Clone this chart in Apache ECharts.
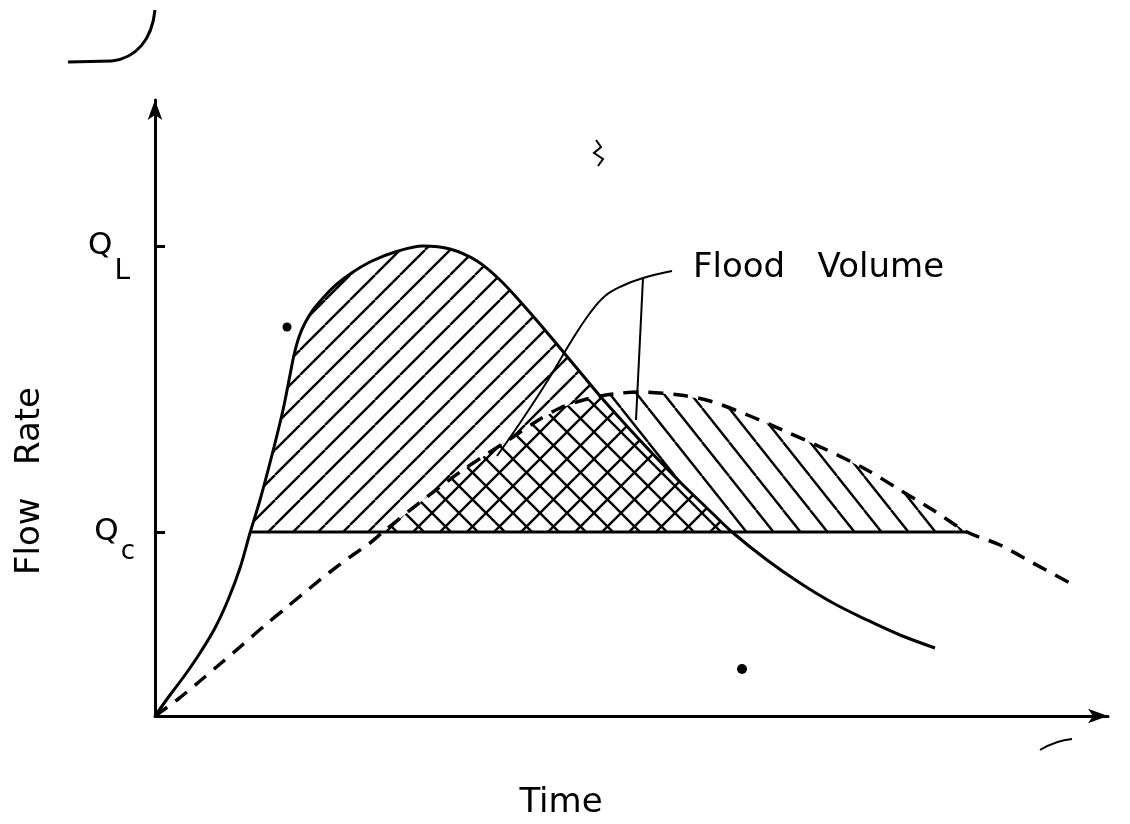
<!DOCTYPE html>
<html>
<head>
<meta charset="utf-8">
<script src="https://cdn.jsdelivr.net/npm/echarts@6/dist/echarts.min.js"></script>
<style>
html,body{margin:0;padding:0;background:#fff;}
#chart{width:1130px;height:824px;}
</style>
</head>
<body>
<div id="chart"></div>
<script>
// ---------------- data (time and flow in arbitrary units) ----------------
const Q_C = 18.4;          // channel capacity flow
const Q_L = 47.0;          // peak (limit) flow
const yTickValues = [Q_C, Q_L];
const yTickLabels = [['Q', 'c'], ['Q', 'L']];   // main letter, subscript

// inflow hydrograph (solid curve)
const inflowT = [0, 1.5, 3.0, 4.5, 6.0, 7.3, 8.5, 9.5, 10.5, 11.7, 12.8, 13.5, 13.9, 14.4, 15.0, 15.8, 16.8, 18.2, 19.8, 21.7, 24.0, 26.8, 29.5, 32.2, 34.5, 37.0, 39.5, 42.0, 44.5, 47.0, 49.5, 52.5, 55.5, 57.7, 61.2, 64.5, 67.8, 71.2, 74.5, 78.0];
const inflowQ = [0, 2.1, 4.1, 6.3, 8.8, 11.6, 14.8, 18.3, 21.6, 26.1, 30.6, 34.1, 36.1, 37.9, 39.3, 40.6, 41.8, 43.2, 44.4, 45.5, 46.4, 47.0, 46.7, 45.5, 43.6, 40.9, 38.0, 35.0, 32.0, 29.2, 26.5, 23.4, 20.5, 18.4, 15.6, 13.3, 11.3, 9.6, 8.1, 6.8];

// outflow / routed hydrograph (dashed curve)
const outflowT = [0, 2.2, 4.5, 6.5, 8.5, 10.8, 13.2, 15.5, 17.5, 19.5, 21.5, 22.8, 26.8, 30.8, 35.2, 38.2, 40.5, 43.2, 45.8, 48.5, 52.5, 55.5, 59.5, 63.2, 67.2, 71.2, 74.5, 77.8, 81.2, 84.5, 87.8, 91.5];
const outflowQ = [0, 1.6, 3.5, 5.2, 6.9, 8.9, 10.9, 12.8, 14.4, 15.9, 17.3, 18.4, 21.6, 24.6, 27.5, 29.5, 30.8, 31.7, 32.2, 32.4, 32.1, 31.5, 30.0, 28.4, 26.6, 24.6, 22.6, 20.6, 18.4, 17.1, 15.3, 13.3];

// annotation leader lines for "Flood Volume"
const leader1 = [[34.2, 26.0], [36.7, 29.6], [39.3, 33.6], [41.7, 37.6], [43.5, 40.3], [45.0, 42.0], [46.7, 43.0], [48.8, 43.8], [51.7, 44.5]];
const leader2 = [[48.8, 43.8], [48.1, 29.6]];
const annotationText = 'Flood   Volume';
const xAxisTitle = 'Time';
const yAxisTitle = 'Flow   Rate';

// ---------------- helpers ----------------
function lin(T, Q, t) {
  if (t <= T[0]) return Q[0];
  if (t >= T[T.length - 1]) return Q[Q.length - 1];
  for (let i = 1; i < T.length; i++) {
    if (t <= T[i]) {
      const f = (t - T[i - 1]) / (T[i] - T[i - 1]);
      return Q[i - 1] + f * (Q[i] - Q[i - 1]);
    }
  }
  return Q[Q.length - 1];
}
const inflow = t => lin(inflowT, inflowQ, t);
const outflow = t => lin(outflowT, outflowQ, t);
const grid = Array.from(new Set(inflowT.concat(outflowT))).sort((a, b) => a - b);

function crossings(h) {
  const out = [];
  for (let i = 1; i < grid.length; i++) {
    const a = grid[i - 1], b = grid[i];
    const ha = h(a), hb = h(b);
    if ((ha <= 0 && hb > 0) || (ha > 0 && hb <= 0)) {
      const t = ha === hb ? a : a + (b - a) * ha / (ha - hb);
      out.push({ t: t, up: hb > 0 });
    }
  }
  return out;
}
const inC = crossings(t => inflow(t) - Q_C);
const outC = crossings(t => outflow(t) - Q_C);
const tS0 = inC.find(c => c.up).t;
const tS1 = inC.filter(c => !c.up && c.t > tS0)[0].t;
const tD0 = outC.find(c => c.up).t;
const tD1 = outC.filter(c => !c.up && c.t > tD0)[0].t;
const tX = crossings(t => inflow(t) - outflow(t)).filter(c => !c.up && c.t > tD0 && c.t < tS1)[0].t;

function region(t0, t1, extra, top, bot) {
  let ts = grid.filter(t => t > t0 && t < t1).concat([t0, t1], extra.filter(t => t > t0 && t < t1));
  ts = Array.from(new Set(ts)).sort((a, b) => a - b);
  const upper = ts.map(t => [t, top(t)]);
  const lower = ts.slice().reverse().map(t => [t, bot(t)]);
  return upper.concat(lower);
}
// "/" only: under inflow, above outflow and Qc
const regionA = region(tS0, tX, [tD0], inflow, t => Math.max(Q_C, outflow(t)));
// cross-hatched: under both curves, above Qc
const regionC = region(tD0, tS1, [tX], t => Math.min(inflow(t), outflow(t)), () => Q_C);
// "\" only: under outflow, above inflow and Qc
const regionB = region(tX, tD1, [tS1], outflow, t => Math.max(Q_C, inflow(t)));

function hatch(w, h, dirs, lw) {
  const c = document.createElement('canvas');
  c.width = w; c.height = h;
  const g = c.getContext('2d');
  g.strokeStyle = '#000';
  g.lineWidth = lw;
  dirs.forEach(d => {
    for (let k = -1; k <= 1; k++) {
      g.beginPath();
      if (d === '/') { g.moveTo(k * w, h); g.lineTo(k * w + w, 0); }
      else { g.moveTo(k * w, 0); g.lineTo(k * w + w, h); }
      g.stroke();
    }
  });
  return { image: c, repeat: 'repeat' };
}
const patA = hatch(25, 25, ['/'], 2.4);
const patB = hatch(27, 34, ['\\'], 2.4);
const patC = hatch(27, 27, ['/', '\\'], 2.4);

const FONT = '"DejaVu Sans", "Noto Sans", sans-serif';
const chart = echarts.init(document.getElementById('chart'), null, { renderer: 'canvas' });

const axisLineStyle = { color: '#000', width: 3 };
const SUB = 26;

chart.setOption({
  backgroundColor: '#fff',
  animation: false,
  grid: { left: 155, right: 22, top: 100, bottom: 108, containLabel: false },
  xAxis: {
    type: 'value', min: 0, max: 95.3,
    axisLine: { show: true, symbol: ['none', 'arrow'], symbolSize: [11, 20], lineStyle: axisLineStyle },
    axisTick: { show: false }, axisLabel: { show: false }, splitLine: { show: false }
  },
  yAxis: {
    type: 'value', min: 0, max: 61.6,
    axisLine: { show: true, symbol: ['none', 'arrow'], symbolSize: [11, 20], lineStyle: axisLineStyle },
    axisTick: { show: true, inside: true, length: 10, customValues: yTickValues, lineStyle: { color: '#000', width: 3 } },
    axisLabel: {
      show: true, customValues: yTickValues, margin: 20, padding: [SUB, 0, 0, 0],
      formatter: function (v) {
        let idx = 0;
        yTickValues.forEach((tv, i) => { if (Math.abs(tv - v) < 1e-6) idx = i; });
        const lab = yTickLabels[idx];
        return '{q|' + lab[0] + '}{' + (lab[1] === 'L' ? 's' : 'c') + '|' + lab[1] + '}';
      },
      rich: {
        q: { fontSize: 31, fontFamily: FONT, color: '#000', lineHeight: 34, padding: [0, 0, SUB, 0] },
        s: { fontSize: 28, fontFamily: FONT, color: '#000', lineHeight: 34, padding: [SUB, 5, 0, 2] },
        c: { fontSize: 26, fontFamily: FONT, color: '#000', lineHeight: 34, padding: [20, 0, SUB - 20, 2] }
      }
    },
    splitLine: { show: false }
  },
  series: [
    {
      type: 'custom', name: 'hatch', z: 1, silent: true,
      coordinateSystem: 'cartesian2d',
      data: [[0, 0]],
      renderItem: function (params, api) {
        const px = pts => pts.map(p => api.coord(p));
        const a = api.coord([tS0, Q_C]);
        const b = api.coord([tD1, Q_C]);
        return {
          type: 'group',
          children: [
            { type: 'polygon', shape: { points: px(regionA) }, style: { fill: patA, stroke: null } },
            { type: 'polygon', shape: { points: px(regionC) }, style: { fill: patC, stroke: null } },
            { type: 'polygon', shape: { points: px(regionB) }, style: { fill: patB, stroke: null } },
            { type: 'line', shape: { x1: a[0], y1: a[1], x2: b[0], y2: b[1] }, style: { stroke: '#000', lineWidth: 3 } }
          ]
        };
      }
    },
    {
      type: 'line', name: 'Inflow', z: 3, smooth: 0.35, showSymbol: false, silent: true,
      data: inflowT.map((t, i) => [t, inflowQ[i]]),
      lineStyle: { color: '#000', width: 3 }
    },
    {
      type: 'line', name: 'Outflow', z: 3, smooth: 0.3, showSymbol: false, silent: true,
      data: outflowT.map((t, i) => [t, outflowQ[i]]),
      lineStyle: { color: '#000', width: 3.5, type: [15, 10] }
    },
    {
      type: 'line', name: 'leader1', z: 4, smooth: 0.4, showSymbol: false, silent: true,
      data: leader1, lineStyle: { color: '#000', width: 2 }
    },
    {
      type: 'line', name: 'leader2', z: 4, smooth: false, showSymbol: false, silent: true,
      data: leader2, lineStyle: { color: '#000', width: 2 }
    }
  ],
  graphic: [
    { type: 'text', x: 693, y: 268, style: { text: annotationText, font: '34px ' + FONT, fill: '#000', align: 'left', verticalAlign: 'middle' } },
    { type: 'text', x: 30, y: 481, rotation: Math.PI / 2, style: { text: yAxisTitle, font: '34px ' + FONT, fill: '#000', align: 'center', verticalAlign: 'middle' } },
    { type: 'text', x: 561, y: 803, style: { text: xAxisTitle, font: '34px ' + FONT, fill: '#000', align: 'center', verticalAlign: 'middle' } },
    // scan marks on the page
    { type: 'polyline', shape: { points: [[68, 62], [112, 61]] }, style: { stroke: '#000', lineWidth: 3, fill: null } },
    { type: 'bezierCurve', shape: { x1: 112, y1: 61, cpx1: 136, cpy1: 58, cpx2: 152, cpy2: 40, x2: 155, y2: 10 }, style: { stroke: '#000', lineWidth: 3, fill: null } },
    { type: 'circle', shape: { cx: 287, cy: 327, r: 4.5 }, style: { fill: '#000' } },
    { type: 'circle', shape: { cx: 742, cy: 669, r: 5 }, style: { fill: '#000' } },
    { type: 'polyline', shape: { points: [[596, 140], [601, 147], [594, 153], [603, 159], [598, 166]] }, style: { stroke: '#000', lineWidth: 2, fill: null } },
    { type: 'bezierCurve', shape: { x1: 1040, y1: 750, cpx1: 1050, cpy1: 744, cpx2: 1060, cpy2: 740, x2: 1072, y2: 739 }, style: { stroke: '#000', lineWidth: 2, fill: null } }
  ]
});
</script>
</body>
</html>
